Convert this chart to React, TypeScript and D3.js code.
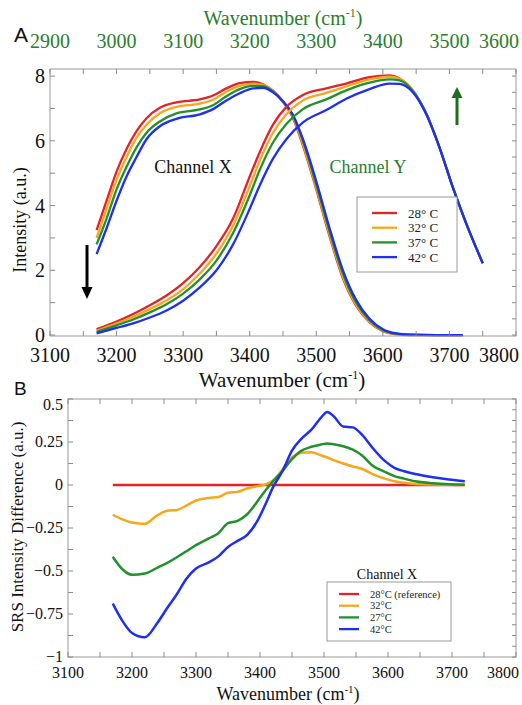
import React from "react";
import * as d3 from "d3";

// ---------- Panel A data ----------
const xGridX = [3170, 3185, 3200, 3215, 3230, 3245, 3265, 3290, 3325, 3345, 3365, 3385, 3405, 3420, 3435, 3450, 3465, 3480, 3500, 3520, 3540, 3560, 3580, 3600, 3620, 3640, 3680, 3720];
const chX28 = [3.24, 4.15, 5.05, 5.75, 6.3, 6.7, 7.02, 7.19, 7.28, 7.4, 7.62, 7.78, 7.82, 7.75, 7.55, 7.2, 6.7, 5.85, 4.5, 3.05, 1.75, 0.9, 0.4, 0.12, 0.03, 0, 0, 0];
const chX32 = [3.0, 3.9, 4.8, 5.5, 6.1, 6.5, 6.85, 7.05, 7.15, 7.27, 7.52, 7.7, 7.77, 7.73, 7.55, 7.22, 6.73, 5.9, 4.55, 3.1, 1.8, 0.93, 0.42, 0.13, 0.03, 0, 0, 0];
const chX37 = [2.8, 3.6, 4.5, 5.2, 5.8, 6.25, 6.6, 6.85, 6.97, 7.1, 7.38, 7.6, 7.7, 7.69, 7.53, 7.22, 6.78, 6.0, 4.65, 3.2, 1.9, 1.0, 0.46, 0.15, 0.04, 0.01, 0, 0];
const chX42 = [2.5, 3.3, 4.15, 4.9, 5.5, 6.05, 6.45, 6.68, 6.82, 6.98, 7.25, 7.47, 7.62, 7.64, 7.5, 7.22, 6.8, 6.05, 4.75, 3.3, 2.0, 1.08, 0.5, 0.18, 0.05, 0.01, 0, 0];

// Channel Y is plotted against the top (green) axis
const xGridY = [2970, 3000, 3025, 3050, 3075, 3100, 3125, 3150, 3175, 3200, 3215, 3235, 3255, 3280, 3315, 3345, 3380, 3410, 3425, 3445, 3465, 3485, 3505, 3525, 3550];
const chY28 = [0.18, 0.42, 0.65, 0.92, 1.22, 1.6, 2.1, 2.75, 3.6, 4.9, 5.65, 6.5, 7.05, 7.42, 7.62, 7.77, 7.97, 8.02, 7.93, 7.56, 6.85, 5.8, 4.57, 3.46, 2.22];
const chY32 = [0.13, 0.36, 0.56, 0.8, 1.07, 1.42, 1.9, 2.52, 3.38, 4.6, 5.38, 6.25, 6.82, 7.25, 7.48, 7.68, 7.9, 7.98, 7.92, 7.56, 6.85, 5.8, 4.57, 3.46, 2.22];
const chY37 = [0.1, 0.3, 0.48, 0.7, 0.95, 1.28, 1.72, 2.3, 3.15, 4.32, 5.1, 5.95, 6.52, 6.98, 7.28, 7.56, 7.8, 7.9, 7.87, 7.54, 6.85, 5.8, 4.57, 3.46, 2.22];
const chY42 = [0.05, 0.22, 0.36, 0.54, 0.76, 1.06, 1.47, 2.0, 2.8, 3.9, 4.62, 5.45, 6.05, 6.57, 6.95, 7.3, 7.6, 7.77, 7.76, 7.5, 6.83, 5.8, 4.57, 3.46, 2.22];

const legendA = ["28° C", "32° C", "37° C", "42° C"];
const xTicksA = [3100, 3200, 3300, 3400, 3500, 3600, 3700, 3800];
const xTopTicksA = [2900, 3000, 3100, 3200, 3300, 3400, 3500, 3600];
const yTicksA = [0, 2, 4, 6, 8];

// ---------- Panel B data ----------
const xGridB = [3170, 3185, 3200, 3220, 3240, 3255, 3270, 3285, 3300, 3320, 3335, 3350, 3365, 3380, 3395, 3410, 3420, 3435, 3450, 3465, 3480, 3495, 3505, 3515, 3530, 3545, 3560, 3575, 3595, 3610, 3625, 3645, 3670, 3695, 3720];
const refX = [3170, 3720];
const diff28 = [0, 0];
const diff32 = [-0.173, -0.2, -0.218, -0.225, -0.175, -0.15, -0.145, -0.12, -0.09, -0.075, -0.07, -0.045, -0.04, -0.02, -0.008, 0.005, 0.025, 0.09, 0.16, 0.188, 0.19, 0.173, 0.16, 0.145, 0.125, 0.108, 0.093, 0.065, 0.037, 0.022, 0.013, 0.006, 0.003, 0.001, 0];
const diff27 = [-0.417, -0.49, -0.522, -0.515, -0.48, -0.453, -0.42, -0.385, -0.35, -0.31, -0.28, -0.222, -0.208, -0.17, -0.1, -0.025, 0.02, 0.08, 0.15, 0.2, 0.222, 0.235, 0.242, 0.237, 0.225, 0.205, 0.17, 0.115, 0.077, 0.052, 0.037, 0.02, 0.01, 0.004, 0.002];
const diff42 = [-0.69, -0.79, -0.86, -0.885, -0.8, -0.715, -0.635, -0.545, -0.485, -0.45, -0.415, -0.36, -0.325, -0.29, -0.215, -0.1, -0.015, 0.08, 0.2, 0.27, 0.32, 0.39, 0.425, 0.4, 0.34, 0.335, 0.29, 0.22, 0.14, 0.1, 0.08, 0.062, 0.045, 0.032, 0.022];

const legendB = ["28°C (reference)", "32°C", "27°C", "42°C"];
const xTicksB = [3100, 3200, 3300, 3400, 3500, 3600, 3700, 3800];
const yTicksB = [0.5, 0.25, 0, -0.25, -0.5, -0.75, -1];
const yTickLabelsB = ["0.5", "0.25", "0", "\u22120.25", "\u22120.5", "\u22120.75", "\u22121"];

const COLORS = ["#e42228", "#f6a71b", "#22902c", "#1e2ff0"];
const GREEN_TXT = "#2a7d2c";
const SERIF = '"Liberation Serif", "DejaVu Serif", serif';
const SANS = '"Liberation Sans", Arial, sans-serif';

export default function App() {
  const xA = d3.scaleLinear().domain([3100, 3800]).range([50, 516]);
  const xAT = d3.scaleLinear().domain([2900, 3600]).range([50, 516]);
  const yA = d3.scaleLinear().domain([-0.03, 8.22]).range([336, 69]);
  const xB = d3.scaleLinear().domain([3100, 3800]).range([68, 516]);
  const yB = d3.scaleLinear().domain([-1, 0.5]).range([657, 399]);

  const lineOf = (xs: number[], ys: number[], sx: any, sy: any) =>
    d3
      .line<number>()
      .x((_, i) => sx(xs[i]))
      .y((d) => sy(d))
      .curve(d3.curveMonotoneX)(ys) || "";

  const seriesX = [chX28, chX32, chX37, chX42];
  const seriesY = [chY28, chY32, chY37, chY42];
  const seriesB: [number[], number[]][] = [
    [refX, diff28],
    [xGridB, diff32],
    [xGridB, diff27],
    [xGridB, diff42],
  ];

  const tickCol = "#8a8a8a";
  const frameCol = "#9a9a9a";
  const rangeStep = (a: number, b: number, s: number) => d3.range(a, b + s / 2, s);
  const serif = { fontFamily: SERIF };
  const sans = { fontFamily: SANS };

  return (
    <svg width={522} height={705} style={{ display: "block", position: "absolute", left: 0, top: 0 }}>
      <rect x={0} y={0} width={522} height={705} fill="#fff" />

      {/* ================= Panel A ================= */}
      <text x={14} y={42} style={sans} fontSize={21} fill="#111">A</text>
      <text x={283} y={25} textAnchor="middle" style={serif} fontSize={20} fill={GREEN_TXT}>
        Wavenumber (cm<tspan dy={-8} fontSize={12}>-1</tspan><tspan dy={8}>)</tspan>
      </text>
      {xTopTicksA.map((v) => (
        <text key={"tt" + v} x={Math.min(xAT(v), 499)} y={48} textAnchor="middle" style={serif} fontSize={20} fill={GREEN_TXT}>
          {v}
        </text>
      ))}

      {seriesX.map((s, i) => (
        <path key={"cx" + i} d={lineOf(xGridX, s, xA, yA)} fill="none" stroke={COLORS[i]} strokeWidth={2.3} />
      ))}
      {seriesY.map((s, i) => (
        <path key={"cy" + i} d={lineOf(xGridY, s, xAT, yA)} fill="none" stroke={COLORS[i]} strokeWidth={2.3} />
      ))}

      <rect x={50} y={69} width={466} height={267} fill="none" stroke={frameCol} strokeWidth={1} />
      {rangeStep(3100, 3800, 50).map((v) => (
        <line key={"bt" + v} x1={xA(v)} x2={xA(v)} y1={336} y2={331} stroke={tickCol} />
      ))}
      {rangeStep(2900, 3600, 50).map((v) => (
        <line key={"tk" + v} x1={xAT(v)} x2={xAT(v)} y1={69} y2={74} stroke={tickCol} />
      ))}
      {rangeStep(0, 8, 1).map((v) => (
        <line key={"lt" + v} x1={50} x2={55} y1={yA(v)} y2={yA(v)} stroke={tickCol} />
      ))}
      {rangeStep(0, 8, 0.5).map((v) => (
        <line key={"rt" + v} x1={516} x2={512} y1={yA(v)} y2={yA(v)} stroke={tickCol} />
      ))}
      {xTicksA.map((v) => (
        <text key={"bl" + v} x={Math.min(xA(v), 499)} y={362} textAnchor="middle" style={serif} fontSize={20} fill="#111">
          {v}
        </text>
      ))}
      {yTicksA.map((v) => (
        <text key={"yl" + v} x={45} y={yA(v) + 7} textAnchor="end" style={serif} fontSize={20} fill="#111">
          {v}
        </text>
      ))}
      <text x={282} y={387} textAnchor="middle" style={serif} fontSize={21} fill="#111">
        Wavenumber (cm<tspan dy={-8} fontSize={12}>-1</tspan><tspan dy={8}>)</tspan>
      </text>
      <text transform="translate(26,220) rotate(-90)" textAnchor="middle" style={serif} fontSize={18} fill="#111">
        Intensity (a.u.)
      </text>

      <text x={193} y={173} textAnchor="middle" style={serif} fontSize={18} fill="#111">Channel X</text>
      <text x={368} y={173} textAnchor="middle" style={serif} fontSize={18} fill={GREEN_TXT}>Channel Y</text>
      <line x1={87} x2={87} y1={245} y2={290} stroke="#000" strokeWidth={3} />
      <polygon points="81.5,287 92.5,287 87,299" fill="#000" />
      <line x1={457} x2={457} y1={125} y2={96} stroke="#1d6e1d" strokeWidth={3} />
      <polygon points="451.5,98 462.5,98 457,87" fill="#1d6e1d" />

      <rect x={357} y={197} width={100} height={75} fill="#fff" stroke={frameCol} />
      {legendA.map((t, i) => (
        <g key={"la" + i}>
          <line x1={372} x2={397} y1={213 + i * 14.7} y2={213 + i * 14.7} stroke={COLORS[i]} strokeWidth={2.3} />
          <text x={408} y={217.5 + i * 14.7} style={serif} fontSize={13} fill="#222">{t}</text>
        </g>
      ))}

      {/* ================= Panel B ================= */}
      <text x={14} y={395} style={sans} fontSize={19} fill="#111">B</text>
      {seriesB.map(([xs, ys], i) => (
        <path key={"b" + i} d={lineOf(xs, ys, xB, yB)} fill="none" stroke={COLORS[i]} strokeWidth={2.5} />
      ))}
      <rect x={68} y={399} width={448} height={258} fill="none" stroke={frameCol} strokeWidth={1} />
      {rangeStep(3100, 3800, 50).map((v) => (
        <g key={"bx" + v}>
          <line x1={xB(v)} x2={xB(v)} y1={657} y2={652} stroke={tickCol} />
          <line x1={xB(v)} x2={xB(v)} y1={399} y2={404} stroke={tickCol} />
        </g>
      ))}
      {rangeStep(-1, 0.5, 0.125).map((v) => (
        <line key={"by" + v} x1={68} x2={73} y1={yB(v)} y2={yB(v)} stroke={tickCol} />
      ))}
      {rangeStep(-1, 0.5, 0.0625).map((v) => (
        <line key={"bry" + v} x1={516} x2={512} y1={yB(v)} y2={yB(v)} stroke={tickCol} />
      ))}
      {xTicksB.map((v) => (
        <text key={"bxl" + v} x={Math.min(xB(v), 503)} y={678} textAnchor="middle" style={serif} fontSize={16} fill="#111">
          {v}
        </text>
      ))}
      {yTicksB.map((v, i) => (
        <text key={"byl" + v} x={63} y={Math.max(yB(v), 405) + 5} textAnchor="end" style={serif} fontSize={16} fill="#111">
          {yTickLabelsB[i]}
        </text>
      ))}
      <text x={288} y={700} textAnchor="middle" style={serif} fontSize={18} fill="#111">
        Wavenumber (cm<tspan dy={-7} fontSize={11}>-1</tspan><tspan dy={7}>)</tspan>
      </text>
      <text transform="translate(23,527) rotate(-90)" textAnchor="middle" style={serif} fontSize={17} fill="#111">
        SRS Intensity Difference (a.u.)
      </text>

      <text x={387} y={579} textAnchor="middle" style={serif} fontSize={14} fill="#111">Channel X</text>
      <rect x={327} y={582} width={124} height={59} fill="#fff" stroke={frameCol} />
      {legendB.map((t, i) => (
        <g key={"lb" + i}>
          <line x1={339} x2={359} y1={594 + i * 11.7} y2={594 + i * 11.7} stroke={COLORS[i]} strokeWidth={2.3} />
          <text x={370} y={597.5 + i * 11.7} style={serif} fontSize={10.5} fill="#222">{t}</text>
        </g>
      ))}
    </svg>
  );
}
